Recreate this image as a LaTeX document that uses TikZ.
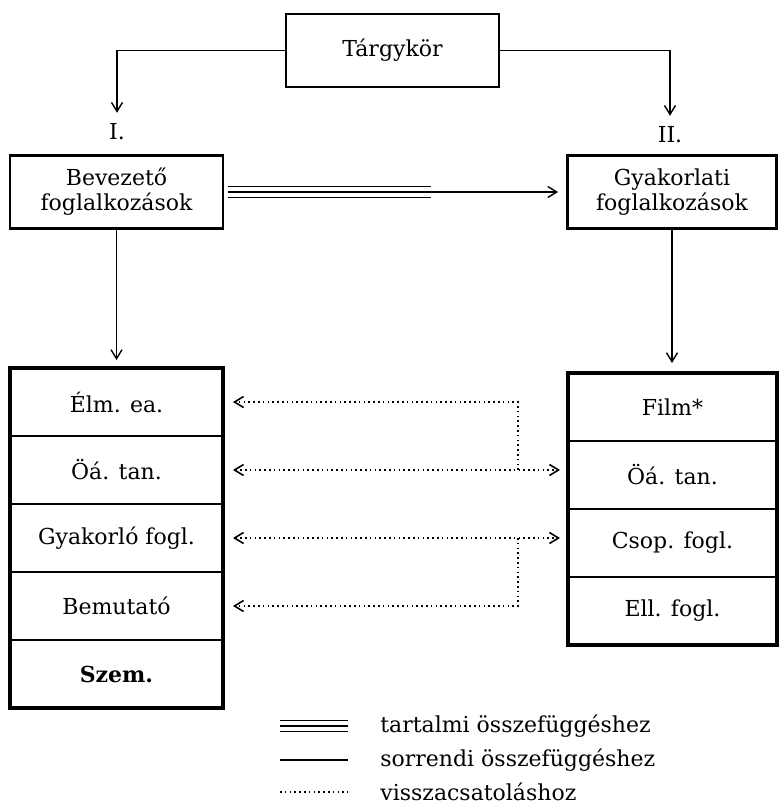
\documentclass[tikz,border=0pt]{standalone}
\usepackage{fontspec}
\setmainfont{DejaVu Serif}
\usetikzlibrary{arrows.meta,positioning}
\tikzset{
	box/.style={draw, line width=1.4pt, minimum width=106.5pt, minimum height=36.5pt, align=center, inner sep=2pt},
	cell/.style={draw, line width=1pt, minimum width=106.5pt, minimum height=34pt, outer sep=0pt, inner sep=0pt},
	frame/.style={line width=1.6pt},
	plain/.style={line width=0.7pt},
	conn/.style={line width=0.7pt, -{Straight Barb[length=4.5pt,width=5.5pt]}},
	fb/.style={line width=0.8pt, dash pattern=on 0.8pt off 1.6pt},
	barb/.style={-{Straight Barb[length=4.5pt,width=5.5pt]}},
	twobarb/.style={{Straight Barb[length=4.5pt,width=5.5pt]}-{Straight Barb[length=4.5pt,width=5.5pt]}},
	legend/.style={anchor=west, inner sep=1pt},
}

\begin{document}
\begin{tikzpicture}[x=0.5pt, y=-0.5pt, font=\fontsize{11}{12.5}\selectfont]
\useasboundingbox[fill=white] (0,0) rectangle (779,805);

% upper level
\node[box] (targy) at (392.5,50.5) {Tárgykör};
\node (lab1) at (117,132) {I.};
\node (lab2) at (670,135) {II.};
\node[box] (bev) at (116.5,192) {Bevezető\\foglalkozások};
\node[box, minimum width=104.5pt] (gyak) at (672,192) {Gyakorlati\\foglalkozások};

\draw[conn, shorten >=2pt] (targy.west) -| (lab1.north);
\draw[conn, shorten >=2pt] (targy.east) -| (lab2.north);

% tartalmi + sorrendi
\draw[plain] ([xshift=2pt, yshift=2.7pt]bev.east) -- ++(203,0);
\draw[plain] ([xshift=2pt, yshift=-2.7pt]bev.east) -- ++(203,0);
\draw[conn, shorten <=2pt, shorten >=4pt] (bev.east) -- (bev.east -| gyak.west);

% left column
\node[cell] (l1) at (116.5,402) {Élm. ea.};
\node[cell, below=0pt of l1] (l2) {Öá. tan.};
\node[cell, below=0pt of l2] (l3) {Gyakorló fogl.};
\node[cell, below=0pt of l3] (l4) {Bemutató};
\node[cell, below=0pt of l4] (l5) {\bfseries Szem.};
\draw[frame] (l1.north west) rectangle (l5.south east);

% right column
\node[cell, minimum width=104.5pt] (r1) at (672.5,407) {Film*};
\node[cell, minimum width=104.5pt, below=0pt of r1] (r2) {Öá. tan.};
\node[cell, minimum width=104.5pt, below=0pt of r2] (r3) {Csop. fogl.};
\node[cell, minimum width=104.5pt, below=0pt of r3] (r4) {Ell. fogl.};
\draw[frame] (r1.north west) rectangle (r4.south east);

\draw[conn, shorten >=4pt] (bev) -- (l1);
\draw[conn, shorten >=5pt] (gyak.south) -- (gyak.south |- r1.north);

% visszacsatolas
\coordinate (knee) at (518,0);
\draw[fb, barb, shorten >=5pt] (l2.east -| knee) -- (l1.east -| knee) -- (l1.east);
\draw[fb, twobarb, shorten <=5pt, shorten >=4pt] (l2.east) -- (l2.east -| r2.west);
\draw[fb, twobarb, shorten <=5pt, shorten >=4pt] (l3.east) -- (l3.east -| r3.west);
\draw[fb, barb, shorten >=5pt] (l3.east -| knee) -- (l4.east -| knee) -- (l4.east);

% legend
\node[legend] (leg1) at (378,726) {tartalmi összefüggéshez};
\node[legend] (leg2) at (378,760) {sorrendi összefüggéshez};
\node[legend] (leg3) at (378,792) {visszacsatoláshoz};
\draw[plain] ([xshift=-49pt, yshift=2.7pt]leg1.west) -- ([xshift=-15pt, yshift=2.7pt]leg1.west);
\draw[plain] ([xshift=-49pt]leg1.west) -- ([xshift=-15pt]leg1.west);
\draw[plain] ([xshift=-49pt, yshift=-2.7pt]leg1.west) -- ([xshift=-15pt, yshift=-2.7pt]leg1.west);
\draw[plain] ([xshift=-49pt]leg2.west) -- ([xshift=-15pt]leg2.west);
\draw[fb] ([xshift=-49pt]leg3.west) -- ([xshift=-15pt]leg3.west);
\end{tikzpicture}
\end{document}
